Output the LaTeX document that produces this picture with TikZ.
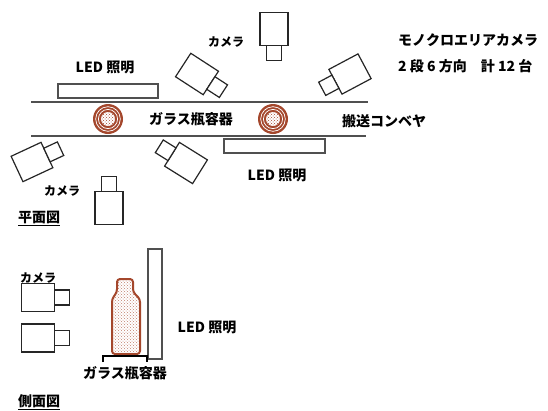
\documentclass[tikz,border=0pt]{standalone}
\usepackage{fontspec}
\setmainfont{Noto Sans CJK JP}
\usetikzlibrary{patterns}
\definecolor{glass}{HTML}{A4472C}
\definecolor{belt}{HTML}{505050}

\tikzset{
  cam/.style={draw=black!85,line width=1.2pt,fill=white},
  camera/.pic={
    \draw[cam] (-14,-16.5) rectangle (14,16.5);
    \draw[cam] (-7.5,16.5) rectangle (7.5,31.5);
  },
  bottletop/.pic={
    \fill[glass] (0,0) circle (15);
    \draw[white,line width=0.7pt] (0,0) circle (12.3) (0,0) circle (9.6);
    \fill[white] (0,0) circle (7);
    \fill[pattern=crosshatch dots,pattern color=glass] (0,0) circle (7);
  }
}

\begin{document}
\begin{tikzpicture}[x=1pt,y=-1pt,
  lbl/.style={font=\fontsize{14}{16}\selectfont\bfseries,inner sep=0pt},
  camlbl/.style={font=\fontsize{12}{14}\selectfont\bfseries,inner sep=0pt},
  led/.style={draw=belt,line width=1.1pt},
  beltline/.style={draw=belt,line width=1.2pt}
]
  \useasboundingbox (0,0) rectangle (548,410);

  % plan view
  \draw[beltline] (31,102) -- (368,102);
  \draw[beltline] (31,136) -- (366,136);
  \draw[led] (58,84) rectangle (158,98);
  \draw[led] (224,139) rectangle (325,153);
  \pic at (108,119) {bottletop};
  \pic at (273,119) {bottletop};

  \pic at (274,29) {camera};
  \pic[rotate=57] at (197,74) {camera};
  \pic[rotate=-62] at (350,74) {camera};
  \pic[rotate=115] at (32,162) {camera};
  \pic[rotate=-122] at (186,163) {camera};
  \pic[rotate=180] at (109,208) {camera};

  \node[camlbl] (camup) at (226,42) {カメラ};
  \node[camlbl] (camdown) at (62,191) {カメラ};
  \node[lbl] (ledup) at (105,67) {LED 照明};
  \node[lbl] (leddown) at (277,175) {LED 照明};
  \node[lbl] (bottles) at (191,119) {ガラス瓶容器};
  \node[lbl] (conveyor) at (384,121) {搬送コンベヤ};
  \node[lbl,anchor=west] (mono) at (398,40) {モノクロエリアカメラ};
  \node[lbl,anchor=west] (count) at (398,66) {2 段 6 方向　計 12 台};
  \node[lbl,anchor=west] (plan) at (18,218) {\underline{平面図}};

  % side view
  \draw[led] (148,249) rectangle (162,359);
  \pic[rotate=90] at (38,297.5) {camera};
  \pic[rotate=90] at (38,338) {camera};
  \draw[glass,line width=2pt,rounded corners=3pt,pattern=crosshatch dots,pattern color=glass!70]
    (112,354) -- (112,299) -- (117,292) -- (117,279) -- (133,279) -- (133,292) -- (140,299) -- (140,354) -- cycle;
  \draw[line width=2pt] (103,362) -- (103,356) -- (147,356) -- (147,362);

  \node[camlbl] (camside) at (38,278) {カメラ};
  \node[lbl] (ledside) at (207,327) {LED 照明};
  \node[lbl] (bottleside) at (125,373) {ガラス瓶容器};
  \node[lbl,anchor=west] (side) at (18,402) {\underline{側面図}};
\end{tikzpicture}
\end{document}
